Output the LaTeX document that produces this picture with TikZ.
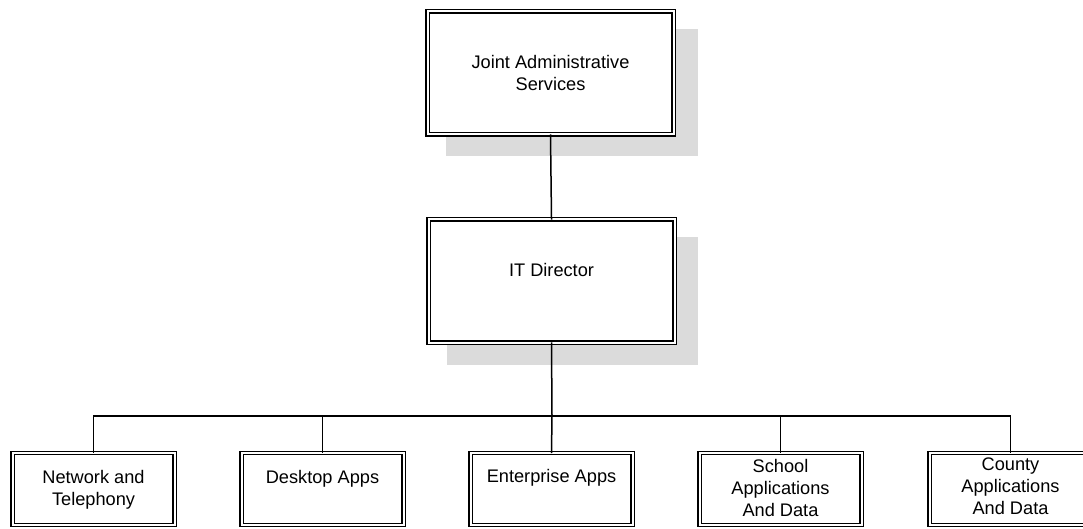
\documentclass[tikz,border=0pt]{standalone}
\usepackage{fontspec}
\setmainfont{Liberation Sans}
\begin{document}
\begin{tikzpicture}[x=1pt,y=-1pt,
  box/.style={draw=black, line width=1.3pt, double=white, double distance=2pt, fill=white, inner sep=0pt, minimum width=#1},
  box/.default=246,
  conn/.style={line width=1.5pt, line cap=rect},
  lbl/.style={font=\fontsize{18.2}{22}\selectfont, align=center, inner sep=0pt}
]
\useasboundingbox (0,0) rectangle (1083,529);
\clip (0,0) rectangle (1083,529);
% shadows
\fill[gray!28] (446,29) rectangle (698,156);
\fill[gray!28] (447,237) rectangle (698,365);
% top boxes
\node[box, minimum height=123] (jas) at (550.5,73) {};
\node[lbl] (jast) at (550.5,73) {Joint Administrative\\Services};
\node[box, minimum height=123] (itd) at (551.5,281) {};
\node[lbl] (itdt) at (551.5,270) {IT Director};
% bottom boxes
\foreach \n/\x in {nt/93.5, da/322.5, ea/551.5, sa/780.5, ca/1010.5}{
  \node[box=162, minimum height=72, anchor=north] (\n) at (\x,452.3) {};
}
\node[lbl, anchor=north] (ntt) at (nt.north) [yshift=-18pt] {Network and\\Telephony};
\node[lbl, anchor=north] (dat) at (da.north) [yshift=-18pt] {Desktop Apps};
\node[lbl, anchor=north] (eat) at (ea.north) [yshift=-17pt] {Enterprise Apps};
\node[lbl, anchor=north] (sat) at (sa.north) [yshift=-7pt] {School\\Applications\\And Data};
\node[lbl, anchor=north] (cat) at (ca.north) [yshift=-5pt] {County\\Applications\\And Data};
% connectors
\coordinate (bus) at (552,416);
\draw[conn] (jas.south) -- (itd.north);
\draw[conn] (itd.south) -- (bus);
\draw[conn] (nt.north) |- (bus);
\draw[conn] (da.north) |- (bus);
\draw[conn] (ea.north) -- (bus);
\draw[conn] (sa.north) |- (bus);
\draw[conn] (ca.north) |- (bus);
\end{tikzpicture}
\end{document}
